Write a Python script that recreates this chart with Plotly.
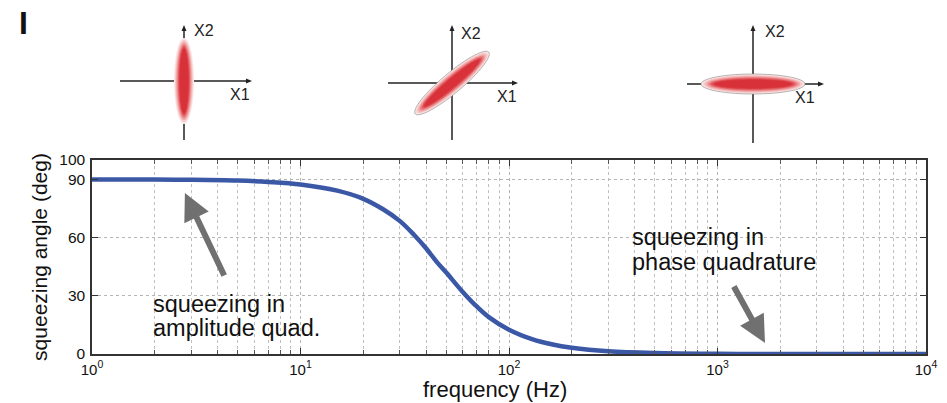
import numpy as np
import plotly.graph_objects as go

# ---- data ----
freq = [1, 2, 3, 5, 7, 10, 15, 20, 25, 30, 35, 40, 45, 50, 60, 70, 80, 100,
        130, 160, 200, 300, 500, 1000, 2000, 5000, 10000]
angle = [90, 89.9, 89.8, 89.4, 88.7, 87.4, 84.2, 80, 74.5, 68.5, 61.5, 54.5,
         47.5, 42, 32, 24.5, 19, 12.5, 7.5, 5, 3.2, 1.4, 0.5, 0.1, 0, 0, 0]
x_ticks = [1, 10, 100, 1000, 10000]
x_ticktext = ["10<sup>0</sup>", "10<sup>1</sup>", "10<sup>2</sup>", "10<sup>3</sup>", "10<sup>4</sup>"]
y_ticks = [0, 30, 60, 90, 100]
minor_x = [m * 10 ** d for d in range(4) for m in range(2, 10)]

W, H = 947, 403
L, R, T, B = 92, 21, 160, 49
PW, PH = W - L - R, H - T - B

def px(x):
    return (x - L) / PW

def py(y):
    return (H - B - y) / PH

FONT = "Liberation Sans, Arial, sans-serif"

fig = go.Figure()
fig.add_trace(go.Scatter(x=freq, y=angle, mode="lines", line=dict(color="#3b58a6", width=4.5),
                         line_shape="spline", showlegend=False, hoverinfo="skip"))

shapes = []
annotations = []

# ---- phase-space diagrams (decorative) ----
def ellipse_path(cx, cy, a, b, ang_deg):
    t = np.linspace(0, 2 * np.pi, 60)
    th = np.deg2rad(ang_deg)
    xs = cx + a * np.cos(t) * np.cos(th) - b * np.sin(t) * np.sin(th)
    ys = cy - (a * np.cos(t) * np.sin(th) + b * np.sin(t) * np.cos(th))
    pts = ["%s%.5f,%.5f" % ("M" if i == 0 else "L", px(x), py(y)) for i, (x, y) in enumerate(zip(xs, ys))]
    return " ".join(pts) + " Z"

diagrams = [
    dict(cx=184, cy=81, hx0=120, hx1=252, vy0=25, vy1=140, a=43, b=10, ang=90, x2=(204, 30), x1=(240, 94)),
    dict(cx=452, cy=83, hx0=388, hx1=518, vy0=25, vy1=140, a=48, b=10, ang=40, x2=(471, 33), x1=(507, 96)),
    dict(cx=753, cy=84, hx0=687, hx1=824, vy0=25, vy1=143, a=52, b=10, ang=0, x2=(775, 32), x1=(805, 97)),
]
for d in diagrams:
    shapes.append(dict(type="line", xref="paper", yref="paper", x0=px(d["hx0"]), x1=px(d["hx1"] - 4),
                       y0=py(d["cy"]), y1=py(d["cy"]), line=dict(color="#222", width=1.5)))
    shapes.append(dict(type="line", xref="paper", yref="paper", x0=px(d["cx"]), x1=px(d["cx"]),
                       y0=py(d["vy0"] + 4), y1=py(d["vy1"]), line=dict(color="#222", width=1.5)))
    shapes.append(dict(type="path", xref="paper", yref="paper",
                       path="M%.5f,%.5f L%.5f,%.5f L%.5f,%.5f Z" % (
                           px(d["hx1"]), py(d["cy"]), px(d["hx1"] - 6), py(d["cy"] - 2.5),
                           px(d["hx1"] - 6), py(d["cy"] + 2.5)),
                       fillcolor="#222", line=dict(width=0)))
    shapes.append(dict(type="path", xref="paper", yref="paper",
                       path="M%.5f,%.5f L%.5f,%.5f L%.5f,%.5f Z" % (
                           px(d["cx"]), py(d["vy0"]), px(d["cx"] - 2.5), py(d["vy0"] + 6),
                           px(d["cx"] + 2.5), py(d["vy0"] + 6)),
                       fillcolor="#222", line=dict(width=0)))
    layers = [(1.0, "#fbe6e6"), (0.9, "#f7caca"), (0.8, "#f2a9aa"), (0.7, "#ea8385"),
              (0.6, "#e25d62"), (0.5, "#db3c43"), (0.4, "#d83139")]
    for k, (s, col) in enumerate(layers):
        shapes.append(dict(type="path", xref="paper", yref="paper",
                           path=ellipse_path(d["cx"], d["cy"], d["a"] * (0.55 + 0.45 * s), d["b"] * s, d["ang"]),
                           fillcolor=col, line=dict(width=0.6 if (k == 0 and d["ang"] != 90) else 0, color="#888")))
    annotations.append(dict(text="X2", x=px(d["x2"][0]), y=py(d["x2"][1]), xref="paper", yref="paper",
                            xanchor="center", yanchor="middle",
                            showarrow=False, font=dict(family=FONT, size=16, color="#222")))
    annotations.append(dict(text="X1", x=px(d["x1"][0]), y=py(d["x1"][1]), xref="paper", yref="paper",
                            xanchor="center", yanchor="middle",
                            showarrow=False, font=dict(family=FONT, size=16, color="#222")))

annotations.append(dict(text="<b>I</b>", x=px(23), y=py(23), xref="paper", yref="paper", showarrow=False,
                        xanchor="center", yanchor="middle",
                        font=dict(family=FONT, size=32, color="#111")))

# ---- text + arrows ----
TXT = dict(family=FONT, size=23.5, color="#111")
for text, x, y in [("squeezing in", 151, 304), ("amplitude quad.", 151, 328),
                   ("squeezing in", 630, 237), ("phase quadrature", 630, 262)]:
    annotations.append(dict(text=text, x=px(x), y=py(y), xref="paper", yref="paper",
                            xanchor="left", yanchor="middle", showarrow=False, font=TXT))
annotations.append(dict(text="frequency (Hz)", x=px(495), y=py(389), xref="paper", yref="paper",
                        xanchor="center", yanchor="middle", showarrow=False,
                        font=dict(family=FONT, size=22, color="#111")))
annotations.append(dict(x=np.log10(2.79), y=83, xref="x", yref="y", ax=40, ay=84, text="",
                        showarrow=True, arrowhead=2, arrowsize=0.9, arrowwidth=6, arrowcolor="#707070"))
annotations.append(dict(x=np.log10(1690), y=5.7, xref="x", yref="y", ax=-32, ay=-58, text="",
                        showarrow=True, arrowhead=2, arrowsize=0.9, arrowwidth=6, arrowcolor="#707070"))

fig.update_layout(
    width=W, height=H, margin=dict(l=L, r=R, t=T, b=B),
    plot_bgcolor="white", paper_bgcolor="white",
    font=dict(family=FONT, size=15, color="#111"),
    shapes=shapes, annotations=annotations,
    xaxis=dict(type="log", range=[0, 4], tickvals=x_ticks, ticktext=x_ticktext, automargin=False,
               showgrid=True, gridcolor="#b5b5b5", griddash="dot", gridwidth=1,
               ticks="inside", ticklen=6, tickcolor="#333", mirror="allticks",
               showline=True, linecolor="#333", linewidth=1.5, zeroline=False,
               minor=dict(tickvals=minor_x, showgrid=True, gridcolor="#c0c0c0", griddash="dot",
                          ticks="inside", ticklen=4, tickcolor="#555"),
               tickfont=dict(size=15), ticklabelstandoff=1),
    yaxis=dict(range=[0, 100], tickvals=y_ticks, showgrid=True, gridcolor="#b5b5b5", griddash="dot",
               ticks="inside", ticklen=6, tickcolor="#333", mirror="allticks", automargin=False,
               showline=True, linecolor="#333", linewidth=1.5, zeroline=False,
               tickfont=dict(size=15.5), ticklabelstandoff=2,
               title=dict(text="squeezing angle (deg)", font=dict(size=21), standoff=6)),
)

fig.write_html("out.html")
